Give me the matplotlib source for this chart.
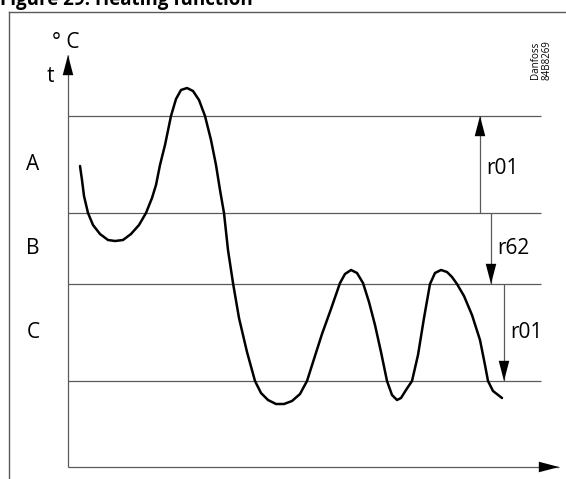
#---------------------------------------------------------------------------------------------------
# Imports
#---------------------------------------------------------------------------------------------------

import numpy as np
import matplotlib as mpl
mpl.use('Agg')
import matplotlib.pyplot as plt
from matplotlib.lines import Line2D

#---------------------------------------------------------------------------------------------------
# Global Parameters
#---------------------------------------------------------------------------------------------------

mpl.rcParams['font.family'] = ['Open Sans', 'DejaVu Sans']

W, H = 566, 479
DPI = 100

GREY = '#5a5a5a'

# Temperature curve (time, temperature), arbitrary units
time = [12, 14, 16, 20, 25, 32, 40, 47, 55, 63, 71, 78, 84, 88, 92, 97, 103, 108, 113, 119,
        125, 131, 137, 143, 148, 152, 156, 160, 165, 171, 179, 187, 193, 200, 208, 216, 224,
        232, 239, 246, 254, 263, 272, 277, 283, 289, 295, 301, 307, 313, 319, 324, 329, 333,
        338, 344, 350, 356, 362, 367, 373, 379, 384, 389, 396, 404, 412, 417, 420, 425, 434]
temp = [301, 287, 271, 254, 242, 233, 227, 226, 227, 233, 242, 254, 269, 282, 302, 322, 351, 368,
        377, 379, 376, 367, 351, 327, 302, 277, 254, 217, 184, 149, 115, 86, 74, 67, 63, 63,
        66, 73, 86, 108, 133, 158, 184, 193, 197, 194, 184, 165, 142, 115, 86, 72, 67, 69,
        77, 86, 112, 149, 183, 194, 197, 195, 190, 183, 171, 152, 127, 102, 86, 76, 69]

# Limit levels (top to bottom) and the band names between them
levels = [351, 254, 183, 86]
bands = ['A', 'B', 'C']

# Dimension arrows: (from level, to level, label)
dims = [(254, 351, 'r01'), (254, 183, 'r62'), (183, 86, 'r01')]
dim_x = [412, 423, 436]

title = 'Figure 29: Heating function'

#---------------------------------------------------------------------------------------------------
# Helpers
#---------------------------------------------------------------------------------------------------

# Pixel (from top-left) to figure fraction
def px(x, y):
    return x / W, 1 - y / H


# Grey shaft with a black filled arrow head at the end
def arrow(ax, x0, y0, x1, y1, head=14):
    ax.plot([x0, x1], [y0, y1], color=GREY, lw=0.9, solid_capstyle='butt', clip_on=False)
    dx, dy = np.sign(x1 - x0), np.sign(y1 - y0)
    ax.annotate('', xy=(x1, y1), xytext=(x1 - dx * head, y1 - dy * head),
                arrowprops=dict(arrowstyle='-|>,head_length=1.45,head_width=0.38',
                                color='black', lw=0.01, shrinkA=0, shrinkB=0),
                annotation_clip=False)

#---------------------------------------------------------------------------------------------------
# Plot
#---------------------------------------------------------------------------------------------------

def main():
    fig = plt.figure(figsize=(W / DPI, H / DPI), dpi=DPI)

    # axes in pixel units: origin at (68, 467), tip of arrows at 559 / 55
    l, b = px(68, 467)
    ax = fig.add_axes([l, b, 491 / W, 412 / H])
    ax.set_xlim(0, 491)
    ax.set_ylim(0, 412)
    ax.axis('off')

    # outer frame
    fig.add_artist(Line2D([9 / W, 9 / W], [0, 1 - 12 / H], color=GREY, lw=1.0))
    fig.add_artist(Line2D([9 / W, 1], [1 - 12 / H, 1 - 12 / H], color=GREY, lw=1.0))

    # title, cut by the top edge like in the source document
    fig.text(0.0, 1 - 5 / H, title, fontsize=13.5, fontweight='bold', ha='left', va='baseline')

    # axes
    arrow(ax, 0, 0, 0, 412, head=15)
    arrow(ax, 0, 0, 491, 0, head=16)

    # limit lines
    for lv in levels:
        ax.plot([0, 473], [lv, lv], color=GREY, lw=0.9, solid_capstyle='butt')

    # band letters
    for i, name in enumerate(bands):
        yc = (levels[i] + levels[i + 1]) / 2
        ax.text(-35, yc, name, fontsize=15, ha='center', va='center')

    # dimension arrows
    for (y0, y1, lab), xd in zip(dims, dim_x):
        arrow(ax, xd, y0, xd, y1, head=14)
        ax.text(xd + 6, (y0 + y1) / 2 - 4 * (y1 > y0), lab, fontsize=15, ha='left', va='center')

    # temperature curve
    ax.plot(time, temp, color='black', lw=1.8, solid_joinstyle='round', solid_capstyle='round')

    # axis labels
    fig.text(*px(52, 42), '\u00b0 C', fontsize=15, ha='left', va='center')
    fig.text(*px(50, 82), 't', fontsize=15, ha='center', va='baseline')

    # drawing reference
    fig.text(*px(541, 60), 'Danfoss\n84B8269', fontsize=7, rotation=90,
             ha='center', va='center', linespacing=1.0, multialignment='center')

    fig.savefig('out.png', dpi=DPI)
    plt.close(fig)


if __name__ == '__main__':
    main()
